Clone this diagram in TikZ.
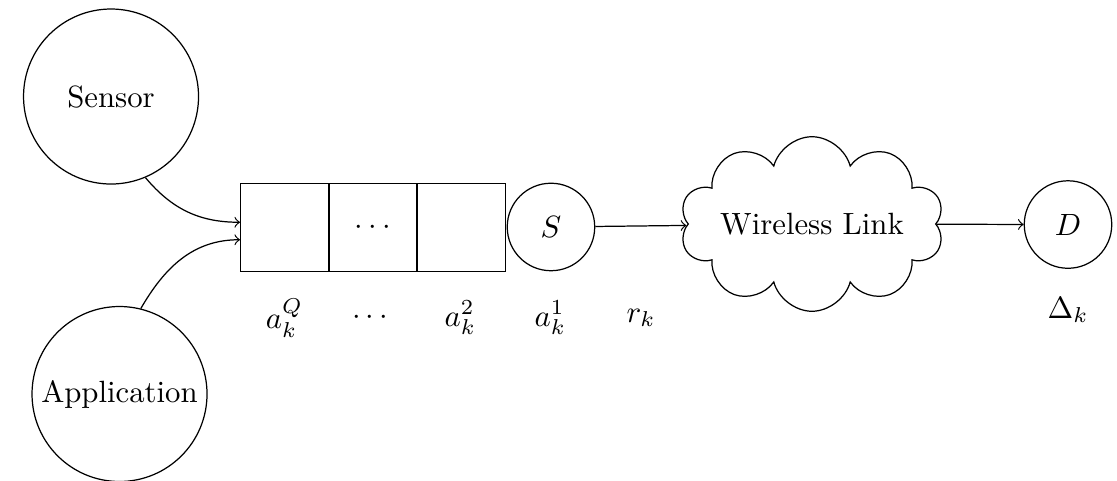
\documentclass[tikz,border=0pt]{standalone}
\usetikzlibrary{shapes.symbols}

\begin{document}
\begin{tikzpicture}[
		src/.style={draw, circle, minimum size=2cm, inner sep=0pt},
		buf/.style={draw, rectangle, minimum size=1cm, inner sep=0pt},
		srv/.style={draw, circle, minimum size=1cm, inner sep=0pt},
		lbl/.style={inner sep=1pt}]
		\useasboundingbox (0,0) rectangle (12.766,-5.486);
		
		\node[src] (sensor) at (1.269,-1.103) {Sensor};
		\node[src] (app) at (1.366,-4.503) {Application};
		
		\node[buf] (buf1) at (3.251,-2.6) {};
		\node[buf] (buf2) at (4.262,-2.6) {$\cdots$};
		\node[buf] (buf3) at (5.273,-2.6) {};
		\node[srv] (S) at (6.297,-2.594) {$S$};
		
		\node[draw, cloud, cloud puffs=10, aspect=2.03, inner xsep=-0.05cm, inner ysep=0pt] (link) at (9.28,-2.56) {Wireless Link};
		\node[srv] (D) at (12.206,-2.566) {$D$};
		
		\draw[->] (sensor.-67) to[out=-50,in=180] ([yshift=0.06cm]buf1.west);
		\draw[->] (app.76) to[out=60,in=180] ([yshift=-0.14cm]buf1.west);
		\draw[->] (S) -- (link);
		\draw[->] (link) -- (D);
		
		% labels under the queue
		\node[lbl] (aQ) at (3.251,-3.634) {$a_k^Q$};
		\node[lbl] (adots) at (4.23,-3.634) {$\cdots$};
		\node[lbl] (a2) at (5.262,-3.634) {$a_k^2$};
		\node[lbl] (a1) at (6.29,-3.634) {$a_k^1$};
		\node[lbl] (rk) at (7.326,-3.634) {$r_k$};
		\node[lbl] (delta) at (12.206,-3.543) {$\Delta_k$};
			
		\end{tikzpicture}
\end{document}
